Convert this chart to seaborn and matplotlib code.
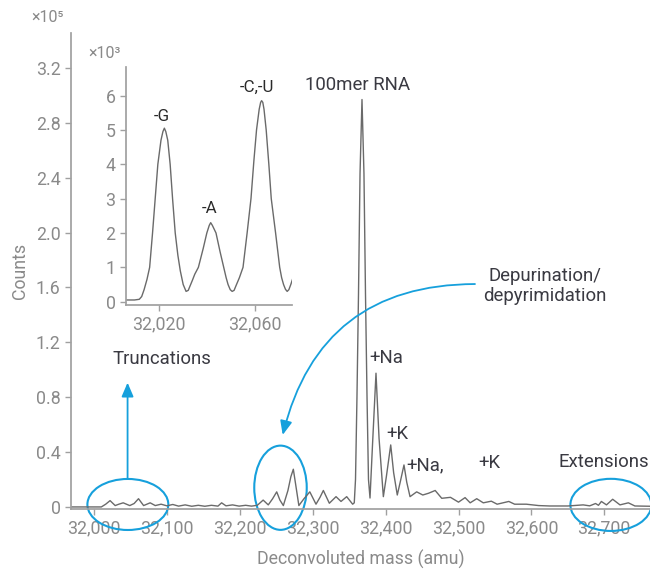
import numpy as np
import pandas as pd
import seaborn as sns
import matplotlib.pyplot as plt
from matplotlib.patches import Ellipse

# main spectrum, counts in units of 1e5
mass = [31968, 32010, 32016, 32022, 32029, 32034, 32040, 32049, 32055, 32061,
        32068, 32077, 32084, 32092, 32100, 32108, 32116, 32125, 32134, 32143,
        32152, 32161, 32170, 32175, 32181, 32190, 32199, 32208, 32216, 32224,
        32232, 32239, 32245, 32250.6, 32255, 32259.7, 32266, 32270, 32273.4, 32277,
        32281, 32288, 32296, 32304.5, 32310, 32314.6, 32322.8, 32332, 32338.8, 32346.6,
        32354.8, 32357, 32358.7, 32360.7, 32362.8, 32364.9, 32367.6, 32370.3, 32372.4, 32374.5,
        32376.5, 32378.6, 32382, 32386.8, 32391, 32396.9, 32401, 32407, 32411, 32416,
        32420, 32425.2, 32429, 32433.5, 32442.6, 32451, 32459, 32468, 32477, 32489,
        32500, 32509, 32516, 32525, 32534, 32545, 32553, 32569, 32577, 32593,
        32610, 32625, 32650, 32671, 32680, 32688, 32692, 32696, 32703, 32711.5,
        32721.5, 32733, 32742, 32763]
counts = [0.0, 0.0, 0.02, 0.046, 0.01, 0.02, 0.03, 0.01, 0.025, 0.06,
          0.01, 0.03, 0.01, 0.02, 0.008, 0.018, 0.006, 0.015, 0.005, 0.012,
          0.005, 0.012, 0.006, 0.03, 0.008, 0.015, 0.006, 0.012, 0.006, 0.012,
          0.05, 0.015, 0.06, 0.11, 0.05, 0.01, 0.12, 0.22, 0.275, 0.15,
          0.01, 0.06, 0.11, 0.02, 0.07, 0.12, 0.027, 0.075, 0.04, 0.075,
          0.02, 0.03, 0.2, 0.8, 1.55, 2.43, 2.97, 2.43, 1.55, 0.8,
          0.2, 0.065, 0.45, 0.975, 0.5, 0.075, 0.22, 0.452, 0.25, 0.087,
          0.18, 0.306, 0.18, 0.075, 0.11, 0.087, 0.1, 0.12, 0.063, 0.07,
          0.035, 0.068, 0.03, 0.06, 0.03, 0.042, 0.02, 0.04, 0.02, 0.02,
          0.01, 0.007, 0.007, 0.015, 0.008, 0.025, 0.012, 0.04, 0.015, 0.056,
          0.015, 0.03, 0.007, 0.005]

# inset, counts in units of 1e3
inset_mass = [32006.5, 32010, 32012, 32013, 32014, 32015.2, 32016.3, 32017.5, 32018.6, 32019.7,
              32021, 32021.8, 32022.4, 32023, 32023.8, 32024.8, 32025.8, 32026.9, 32028, 32029,
              32030.2, 32031.4, 32032.3, 32033, 32034, 32035, 32036.5, 32038.5, 32040, 32041,
              32041.6, 32042.3, 32043.8, 32045.5, 32047, 32048, 32048.8, 32049.7, 32050.5, 32051.3,
              32052, 32053.5, 32055, 32056.7, 32058.3, 32059.5, 32060.6, 32061.7, 32062.3, 32062.7,
              32063.2, 32063.7, 32064.6, 32065.7, 32066.7, 32068.5, 32070.2, 32071, 32071.8, 32072.6,
              32073.3, 32074, 32074.8, 32076.2]
inset_counts = [0.05, 0.05, 0.07, 0.15, 0.35, 0.65, 1.0, 2.0, 3.0, 4.0,
                4.7, 4.95, 5.05, 4.95, 4.7, 4.0, 3.0, 2.0, 1.35, 0.9,
                0.5, 0.3, 0.33, 0.45, 0.62, 0.8, 1.0, 1.55, 2.0, 2.22,
                2.3, 2.22, 2.0, 1.45, 1.0, 0.7, 0.5, 0.35, 0.3, 0.33,
                0.45, 0.7, 1.0, 2.0, 3.0, 4.1, 5.0, 5.6, 5.8, 5.85,
                5.8, 5.6, 5.0, 4.0, 3.0, 2.0, 1.0, 0.7, 0.5, 0.36,
                0.3, 0.35, 0.5, 0.8]

x_ticks = [32000, 32100, 32200, 32300, 32400, 32500, 32600, 32700]
y_ticks = [0, 0.4, 0.8, 1.2, 1.6, 2.0, 2.4, 2.8, 3.2]
inset_x_ticks = [32020, 32060]
inset_y_ticks = [0, 1, 2, 3, 4, 5, 6]

sns.set_theme(style="ticks")
plt.rcParams['font.family'] = ['Roboto', 'DejaVu Sans']

grey = '#8a8a8a'
spine = '#a0a0a0'
line = '#6a6a6a'
blue = '#16a0dc'
dark = '#3a3a42'

df = pd.DataFrame({'mass': mass, 'counts': counts})
dfi = pd.DataFrame({'mass': inset_mass, 'counts': inset_counts})

fig = plt.figure(figsize=(6.5, 5.69), dpi=100)
ax = fig.add_axes([71/650, 60/569, 579/650, 476/569])
sns.lineplot(data=df, x='mass', y='counts', ax=ax, color=line, linewidth=1.0)
ax.set_xlim(31968.4, 32762.7)
ax.set_ylim(-0.015, 3.455)
ax.set_xticks(x_ticks)
ax.set_xticklabels([f"{v:,}" for v in x_ticks])
ax.set_yticks(y_ticks)
ax.set_yticklabels(['0'] + [f"{v:.1f}" for v in y_ticks[1:]])
ax.set_xlabel('Deconvoluted mass (amu)', color=grey, fontsize=12.8, labelpad=9)
ax.set_ylabel('Counts', color=grey, fontsize=12.8, labelpad=5)
sns.despine(ax=ax)
ax.spines['left'].set_color(spine)
ax.spines['bottom'].set_color(spine)
ax.tick_params(colors=spine, labelcolor=grey, labelsize=12.8, length=4, width=1)

fig.text(31/650, 1 - 18/569, '×10⁵', color=grey, fontsize=11.5, va='center', ha='left')

# ellipses and arrows
ell_kw = dict(fill=False, edgecolor=blue, linewidth=1.5, clip_on=False)
ax.add_patch(Ellipse((32046.4, 0.018), 111, 0.372, **ell_kw))
ax.add_patch(Ellipse((32255.8, 0.14), 72, 0.614, **ell_kw))
ax.add_patch(Ellipse((32709, 0.015), 111, 0.38, **ell_kw))

ax.annotate('', xy=(32046, 0.906), xytext=(32046, 0.204),
            arrowprops=dict(arrowstyle='-|>,head_length=0.7,head_width=0.3', color=blue,
                            lw=1.3, shrinkA=0, shrinkB=0))
ax.annotate('', xy=(32258.8, 0.525), xytext=(32522.6, 1.625),
            arrowprops=dict(arrowstyle='-|>,head_length=0.7,head_width=0.3', color=blue,
                            lw=1.3, shrinkA=0, shrinkB=0, connectionstyle='arc3,rad=0.39'))

txt_kw = dict(color=dark, fontsize=13.4, ha='center', va='center')
ax.text(32361.4, 3.076, '100mer RNA', **txt_kw)
ax.text(32401.5, 1.086, '+Na', **txt_kw)
ax.text(32415.6, 0.532, '+K', **txt_kw)
ax.text(32454, 0.306, '+Na,', **txt_kw)
ax.text(32543, 0.32, '+K', **txt_kw)
ax.text(32699.6, 0.33, 'Extensions', **txt_kw)
ax.text(32093, 1.079, 'Truncations', **txt_kw)
ax.text(32618.7, 1.61, 'Depurination/\ndepyrimidation', linespacing=1.15, **txt_kw)

# inset
axi = fig.add_axes([126/650, 264/569, 166/650, 238/569])
axi.patch.set_alpha(0)
sns.lineplot(data=dfi, x='mass', y='counts', ax=axi, color=line, linewidth=1.0)
axi.set_xlim(32006.5, 32075.3)
axi.set_ylim(-0.096, 6.83)
axi.set_xticks(inset_x_ticks)
axi.set_xticklabels([f"{v:,}" for v in inset_x_ticks])
axi.set_yticks(inset_y_ticks)
axi.set_xlabel('')
axi.set_ylabel('')
sns.despine(ax=axi)
axi.spines['left'].set_color(spine)
axi.spines['bottom'].set_color(spine)
axi.tick_params(colors=spine, labelcolor=grey, labelsize=12.8, length=4, width=1)

fig.text(88/650, 1 - 54/569, '×10³', color=grey, fontsize=11.5, va='center', ha='left')

itxt = dict(color='#2a2a2a', fontsize=12.2, ha='center', va='center')
axi.text(32021.3, 5.4, '-G', **itxt)
axi.text(32041.1, 2.72, '-A', **itxt)
axi.text(32060.9, 6.24, '-C,-U', **itxt)

plt.savefig('out.png', dpi=100)
